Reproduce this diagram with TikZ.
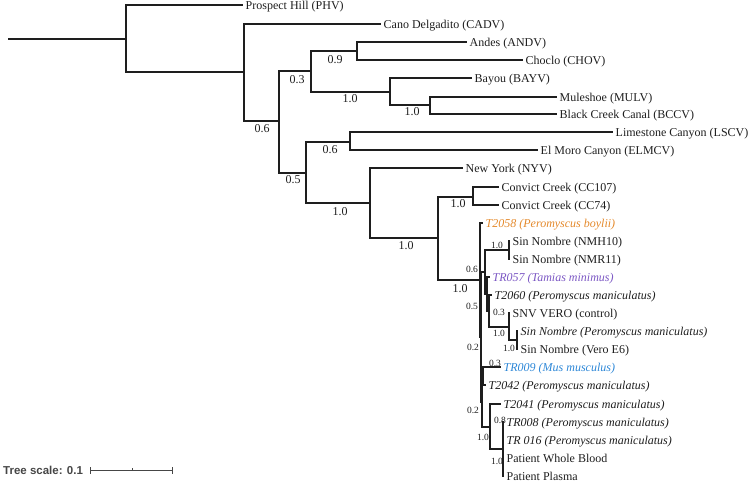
\documentclass[tikz,border=0pt]{standalone}
\usepackage{fontspec}
\setmainfont{Liberation Serif}
\newfontfamily\arialfont{Liberation Sans}
\usepackage{tikz}
\definecolor{tol@line}{RGB}{30,30,30}
\definecolor{tol@orange}{RGB}{228,137,43}
\definecolor{tol@purple}{RGB}{124,88,196}
\definecolor{tol@blue}{RGB}{45,135,215}
\definecolor{tol@gray}{RGB}{70,70,70}

\begin{document}
\begin{tikzpicture}[x=1pt,y=-1pt,
  branch/.style={draw=tol@line,line width=1.2pt},
  leaf/.style={anchor=base west,xshift=1.5pt,yshift=-4pt,inner sep=1pt,font=\fontsize{12}{14}\selectfont},
  bval/.style={inner sep=0pt,font=\fontsize{12}{14}\selectfont},
  bvals/.style={inner sep=0pt,font=\fontsize{9.5}{11}\selectfont},
  every node/.style={text=tol@line}
]
\useasboundingbox (0,0) rectangle (750,483);

% internal nodes
\coordinate (root) at (8,39);
\coordinate (n1) at (126,39);
\coordinate (n2) at (244,72);
\coordinate (n3) at (279,121);
\coordinate (n4) at (311,71);
\coordinate (n5) at (357,51);
\coordinate (n6) at (390,92);
\coordinate (n7) at (430,105);
\coordinate (n8) at (306,173);
\coordinate (n9) at (350,142);
\coordinate (n10) at (370,203);
\coordinate (n11) at (438,238);
\coordinate (n12) at (473,197);
\coordinate (n13) at (480,280);
\coordinate (n14) at (481,337);
\coordinate (n15) at (485,272);
\coordinate (n16) at (509,250);
\coordinate (n17) at (487,294);
\coordinate (n18) at (489,311);
\coordinate (n19) at (509,327);
\coordinate (n20) at (517,340);
\coordinate (n21) at (482,402);
\coordinate (n22) at (483,376);
\coordinate (n23) at (490,427);
\coordinate (n24) at (503,449);
\coordinate (n25) at (503,431);
\coordinate (n26) at (503,467);

% leaves
\coordinate (phv) at (243,5);
\coordinate (cadv) at (381,24);
\coordinate (andv) at (467,42);
\coordinate (chov) at (523,60);
\coordinate (bayv) at (472,78);
\coordinate (mulv) at (557,97);
\coordinate (bccv) at (557,114);
\coordinate (lscv) at (613,132);
\coordinate (elmcv) at (538,150);
\coordinate (nyv) at (463,168);
\coordinate (cc107) at (499,187);
\coordinate (cc74) at (499,205);
\coordinate (t2058) at (483,223);
\coordinate (nmh10) at (510,241);
\coordinate (nmr11) at (510,259);
\coordinate (tr057) at (490,277);
\coordinate (t2060) at (492,295);
\coordinate (snv) at (510,313);
\coordinate (snpm) at (518,331);
\coordinate (vero) at (518,349);
\coordinate (tr009) at (501,367);
\coordinate (t2042) at (486,385);
\coordinate (t2041) at (501,404);
\coordinate (tr008) at (504,422);
\coordinate (tr016) at (504,440);
\coordinate (pwb) at (504,458);
\coordinate (pp) at (504,476);

\draw[branch] (root) -- (n1);
\foreach \p/\c in {n1/phv,n1/n2,n2/cadv,n2/n3,n3/n4,n3/n8,n4/n5,n4/n6,
    n5/andv,n5/chov,n6/bayv,n6/n7,n7/mulv,n7/bccv,n8/n9,n8/n10,n9/lscv,
    n9/elmcv,n10/nyv,n10/n11,n11/n12,n11/n13,n12/cc107,n12/cc74,n13/t2058,
    n13/n14,n14/n15,n14/n21,n15/n16,n15/n17,n16/nmh10,n16/nmr11,n17/tr057,
    n17/n18,n18/t2060,n18/n19,n19/snv,n19/n20,n20/snpm,n20/vero,n21/n22,
    n21/n23,n22/tr009,n22/t2042,n23/t2041,n23/n24,n24/n25,n24/n26,
    n25/tr008,n25/tr016,n26/pwb,n26/pp}
  \draw[branch] (\p) |- (\c);

\node[leaf] (lphv) at (phv) {Prospect Hill (PHV)};
\node[leaf] (lcadv) at (cadv) {Cano Delgadito (CADV)};
\node[leaf] (landv) at (andv) {Andes (ANDV)};
\node[leaf] (lchov) at (chov) {Choclo (CHOV)};
\node[leaf] (lbayv) at (bayv) {Bayou (BAYV)};
\node[leaf] (lmulv) at (mulv) {Muleshoe (MULV)};
\node[leaf] (lbccv) at (bccv) {Black Creek Canal (BCCV)};
\node[leaf] (llscv) at (lscv) {Limestone Canyon (LSCV)};
\node[leaf] (lelmcv) at (elmcv) {El Moro Canyon (ELMCV)};
\node[leaf] (lnyv) at (nyv) {New York (NYV)};
\node[leaf] (lcc107) at (cc107) {Convict Creek (CC107)};
\node[leaf] (lcc74) at (cc74) {Convict Creek (CC74)};
\node[leaf,text=tol@orange] (lt2058) at (t2058) {\itshape T2058 (Peromyscus boylii)};
\node[leaf] (lnmh10) at (nmh10) {Sin Nombre (NMH10)};
\node[leaf] (lnmr11) at (nmr11) {Sin Nombre (NMR11)};
\node[leaf,text=tol@purple] (ltr057) at (tr057) {\itshape TR057 (Tamias minimus)};
\node[leaf] (lt2060) at (t2060) {\itshape T2060 (Peromyscus maniculatus)};
\node[leaf] (lsnv) at (snv) {SNV VERO (control)};
\node[leaf] (lsnpm) at (snpm) {\itshape Sin Nombre (Peromyscus maniculatus)};
\node[leaf] (lvero) at (vero) {Sin Nombre (Vero E6)};
\node[leaf,text=tol@blue] (ltr009) at (tr009) {\itshape TR009 (Mus musculus)};
\node[leaf] (lt2042) at (t2042) {\itshape T2042 (Peromyscus maniculatus)};
\node[leaf] (lt2041) at (t2041) {\itshape T2041 (Peromyscus maniculatus)};
\node[leaf] (ltr008) at (tr008) {\itshape TR008 (Peromyscus maniculatus)};
\node[leaf] (ltr016) at (tr016) {\itshape TR 016 (Peromyscus maniculatus)};
\node[leaf] (lpwb) at (pwb) {Patient Whole Blood};
\node[leaf] (lpp) at (pp) {Patient Plasma};

% support values
\node[bval] (s3) at (262,129) {0.6};
\node[bval] (s4) at (297,80) {0.3};
\node[bval] (s5) at (335,60) {0.9};
\node[bval] (s6) at (350,99) {1.0};
\node[bval] (s7) at (412,112) {1.0};
\node[bval] (s8) at (293,180) {0.5};
\node[bval] (s9) at (330,150) {0.6};
\node[bval] (s10) at (340,212) {1.0};
\node[bval] (s11) at (406,246) {1.0};
\node[bval] (s12) at (458,204) {1.0};
\node[bval] (s13) at (460,289) {1.0};
\node[bvals] (s16) at (497,245) {1.0};
\node[bvals] (s15) at (472,269) {0.6};
\node[bvals] (s17) at (472,306) {0.5};
\node[bvals] (s19) at (499,312) {0.3};
\node[bvals] (s18) at (499,333) {1.0};
\node[bvals] (s14) at (473,347) {0.2};
\node[bvals] (s20) at (509,348) {1.0};
\node[bvals] (s22) at (495,363) {0.3};
\node[bvals] (s21) at (473,410) {0.2};
\node[bvals] (s25) at (500,420) {0.8};
\node[bvals] (s23) at (483,437) {1.0};
\node[bvals] (s24) at (497,461) {1.0};

% scale bar
\node[anchor=west,inner sep=0pt,text=tol@gray,font=\arialfont\bfseries\fontsize{11.5}{13}\selectfont] (scl) at (3,470) {Tree scale: 0.1};
\coordinate (sb0) at (90,470);
\coordinate (sbm) at (132,470);
\coordinate (sb1) at (172,470);
\draw[tol@gray,line width=1pt] (sb0) -- (sb1);
\draw[tol@gray,line width=0.8pt] ([yshift=-3.5pt]sb0) -- ([yshift=3.5pt]sb0)
  ([yshift=-3.5pt]sb1) -- ([yshift=3.5pt]sb1) (sbm) -- ([yshift=2.5pt]sbm);
\end{tikzpicture}
\end{document}
